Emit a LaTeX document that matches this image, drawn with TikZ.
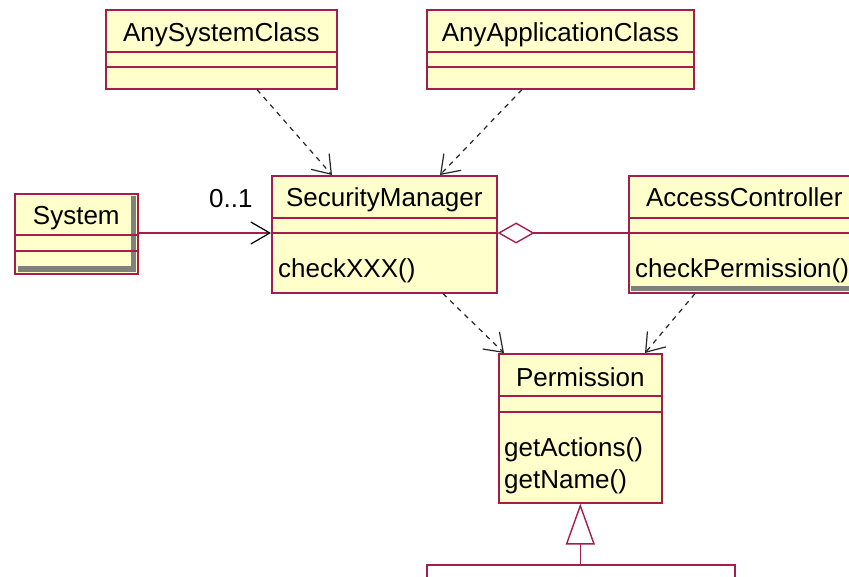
\documentclass[tikz,border=0pt]{standalone}
\usepackage{fontspec}
\setmainfont{Liberation Sans}
\usetikzlibrary{arrows.meta}
\definecolor{umlred}{RGB}{165,30,75}
\definecolor{umlfill}{RGB}{255,255,204}
\definecolor{umlshadow}{RGB}{128,128,128}
\newcommand{\umlfont}{\fontsize{26}{32}\selectfont}
\tikzset{
  cls/.style={draw=umlred, fill=umlfill, line width=1.6pt, rectangle, inner sep=0pt, anchor=north west},
  cline/.style={draw=umlred, line width=1.6pt},
  cname/.style={font=\umlfont, anchor=base, inner sep=0pt},
  meth/.style={font=\umlfont, anchor=base west, inner sep=0pt},
  dep/.style={draw=black!85, line width=1.2pt, dash pattern=on 5pt off 5pt,
    -{Straight Barb[length=17pt,width=24pt,line width=1.2pt]}},
  assoc/.style={draw=umlred, line width=1.4pt},
  shadowband/.style={fill=umlshadow, draw=none},
}
\begin{document}
\begin{tikzpicture}[x=1pt,y=-1pt]
\useasboundingbox (0,0) rectangle (849,577);
\fill[white] (0,0) rectangle (849,577);
\clip (0,0) rectangle (849,577);

% class boxes
\node[cls, minimum width=231pt, minimum height=79pt] (asc) at (105,9) {};
\node[cls, minimum width=267pt, minimum height=79pt] (aac) at (426,9) {};
\node[cls, minimum width=225pt, minimum height=117pt] (sm) at (271,175) {};
\node[cls, minimum width=231pt, minimum height=117pt] (ac) at (628,175) {};
\node[cls, minimum width=123pt, minimum height=80pt] (sys) at (14,193) {};
\node[cls, minimum width=163pt, minimum height=149pt] (perm) at (498,353) {};
\node[cls, fill=white, minimum width=308pt, minimum height=60pt] (sub) at (426,564) {};

% shadows
\path[shadowband] (130.5,196) rectangle (136.2,272.2);
\path[shadowband] (18,266.5) rectangle (136.2,272.2);
\path[shadowband] (631,286) rectangle (860,291.2);

% compartment lines
\draw[cline] (asc.west |- 0,52) -- (asc.east |- 0,52);
\draw[cline] (asc.west |- 0,67) -- (asc.east |- 0,67);
\draw[cline] (aac.west |- 0,52) -- (aac.east |- 0,52);
\draw[cline] (aac.west |- 0,67) -- (aac.east |- 0,67);
\draw[cline] (sm.west |- 0,218) -- (sm.east |- 0,218);
\draw[cline] (sm.west |- 0,233) -- (sm.east |- 0,233);
\draw[cline] (ac.west |- 0,218) -- (ac.east |- 0,218);
\draw[cline] (ac.west |- 0,233) -- (ac.east |- 0,233);
\draw[cline] (sys.west |- 0,235) -- (sys.east |- 0,235);
\draw[cline] (sys.west |- 0,251) -- (sys.east |- 0,251);
\draw[cline] (perm.west |- 0,396) -- (perm.east |- 0,396);
\draw[cline] (perm.west |- 0,412) -- (perm.east |- 0,412);

% texts
\node[cname] (ascn) at (asc.north |- 0,42) {AnySystemClass};
\node[cname] (aacn) at (aac.north |- 0,42) {AnyApplicationClass};
\node[cname] (smn) at (sm.north |- 0,207) {SecurityManager};
\node[meth] (smm) at (278,278) {checkXXX()};
\node[cname] (acn) at (ac.north |- 0,207) {AccessController};
\node[meth] (acm) at (635,278) {checkPermission()};
\node[cname] (sysn) at (sys.north |- 0,225) {System};
\node[cname] (permn) at (perm.north |- 0,386) {Permission};
\node[meth] (perm1) at (504,456) {getActions()};
\node[meth] (perm2) at (504,488) {getName()};
\node[meth] (mult) at (209,208) {0..1};

% association System -> SecurityManager
\draw[assoc, -{Straight Barb[length=19pt,width=22pt,line width=1.2pt,color=black]}]
  (sys.east |- 0,233) -- (sm.west |- 0,233);

% aggregation SecurityManager <>-- AccessController
\draw[assoc, {Diamond[open,length=37pt,width=21pt,line width=1.4pt]}-]
  (sm.east |- 0,233) -- (ac.west |- 0,233);

% generalization
\draw[assoc, -{Triangle[open,length=41pt,width=29pt,line width=1.4pt]}]
  (perm.south |- sub.north) -- (perm.south);

% dependencies
\draw[dep] (257,0 |- asc.south) -- (332,0 |- sm.north);
\draw[dep] (522,0 |- aac.south) -- (440,0 |- sm.north);
\draw[dep] (443,0 |- sm.south) -- (504,0 |- perm.north);
\draw[dep] (695,0 |- ac.south) -- (645,0 |- perm.north);
\end{tikzpicture}
\end{document}
